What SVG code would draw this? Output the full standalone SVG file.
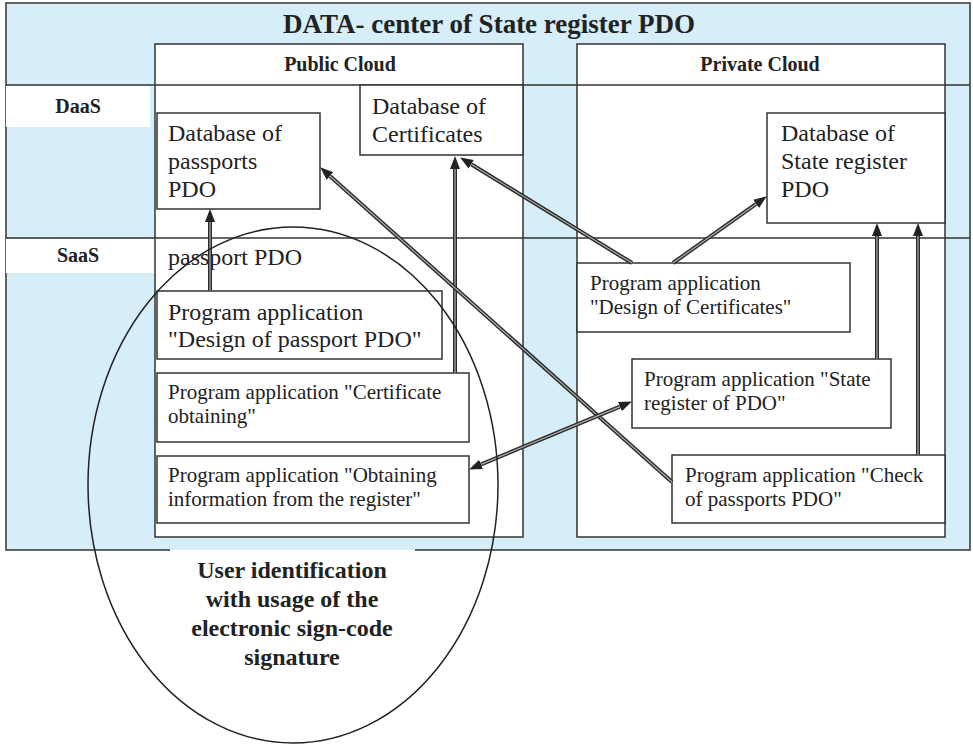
<svg xmlns="http://www.w3.org/2000/svg" width="973" height="747" viewBox="0 0 973 747">
<style>
.ln{stroke:#333;stroke-width:1.5;fill:none}
.box{fill:#fff;stroke:#333;stroke-width:1.5}
.t{font-family:"Liberation Serif","Times New Roman",serif;fill:#222}
.b{font-weight:bold}
.big{font-size:24px}
.sm{font-size:21px}
.hd{font-size:20px;font-weight:bold}
.ao{stroke:#2a2a2a;stroke-width:4;fill:none}
.ai{stroke:#b0b0b0;stroke-width:1.2;fill:none}
</style>
<defs>
<marker id="ah" markerUnits="userSpaceOnUse" markerWidth="14" markerHeight="12" refX="0" refY="5" orient="auto-start-reverse" viewBox="0 0 14 10">
<path d="M0,0 L13,5 L0,10 z" fill="#222"/>
</marker>
</defs>
<rect width="973" height="747" fill="#fff"/>
<g id="datacenter">
<rect x="6" y="3" width="964" height="547" fill="#d5eef7"/>
<path class="ln" d="M170,550 L6,550 L6,3 L970,3 L970,550 L415,550"/>
<text class="t b" x="489" y="33" font-size="27" text-anchor="middle">DATA- center of State register PDO</text>
</g>
<g id="daas-label">
<rect x="6" y="86" width="144" height="41" fill="#fff"/>
<text class="t hd" x="78" y="113" text-anchor="middle">DaaS</text>
</g>
<g id="saas-label">
<rect x="6" y="239" width="149" height="34" fill="#fff"/>
<text class="t hd" x="78" y="262" text-anchor="middle">SaaS</text>
</g>
<g id="public-cloud">
<rect class="box" x="155" y="44" width="368" height="493"/>
<text class="t hd" x="340" y="71" text-anchor="middle">Public Cloud</text>
</g>
<g id="private-cloud">
<rect class="box" x="577" y="44" width="368" height="493"/>
<text class="t hd" x="760" y="71" text-anchor="middle">Private Cloud</text>
</g>
<g id="rows">
<line class="ln" x1="6" y1="85" x2="970" y2="85"/>
<line class="ln" x1="6" y1="238" x2="970" y2="238"/>
</g>
<g id="db-passports">
<rect class="box" x="157" y="113" width="163" height="96"/>
<text class="t big" x="168" y="141">Database of</text>
<text class="t big" x="168" y="169">passports</text>
<text class="t big" x="168" y="197">PDO</text>
</g>
<g id="db-certificates">
<rect class="box" x="360" y="85" width="163" height="70"/>
<text class="t big" x="372" y="114">Database of</text>
<text class="t big" x="372" y="142">Certificates</text>
</g>
<g id="db-state-register">
<rect class="box" x="767" y="113" width="178" height="110"/>
<text class="t big" x="781" y="141">Database of</text>
<text class="t big" x="781" y="169">State register</text>
<text class="t big" x="781" y="197">PDO</text>
</g>
<g id="passport-pdo">
<text class="t big" x="168" y="265">passport PDO</text>
</g>
<g id="app-design-passport">
<rect class="box" x="157" y="291" width="285" height="68"/>
<text class="t big" x="168" y="320">Program application</text>
<text class="t big" x="168" y="347">"Design of passport PDO"</text>
</g>
<g id="app-certificate-obtaining">
<rect class="box" x="157" y="373" width="312" height="69"/>
<text class="t sm" x="168" y="399">Program application "Certificate</text>
<text class="t sm" x="168" y="423">obtaining"</text>
</g>
<g id="app-obtaining-info">
<rect class="box" x="157" y="456" width="312" height="67"/>
<text class="t sm" x="168" y="482">Program application "Obtaining</text>
<text class="t sm" x="168" y="506">information from the register"</text>
</g>
<g id="app-design-certificates">
<rect class="box" x="577" y="263" width="273" height="69"/>
<text class="t sm" x="590" y="290">Program application</text>
<text class="t sm" x="590" y="314">"Design of Certificates"</text>
</g>
<g id="app-state-register">
<rect class="box" x="632" y="359" width="259" height="69"/>
<text class="t sm" x="644" y="386">Program application "State</text>
<text class="t sm" x="644" y="410">register of PDO"</text>
</g>
<g id="app-check-passports">
<rect class="box" x="672" y="455" width="273" height="68"/>
<text class="t sm" x="685" y="482">Program application  "Check</text>
<text class="t sm" x="685" y="506">of passports PDO"</text>
</g>
<g id="connectors">
<path class="ao" d="M210,291 L210,222" marker-end="url(#ah)"/>
<path class="ai" d="M210,291 L210,222"/>
<path class="ao" d="M455,373 L455,169" marker-end="url(#ah)"/>
<path class="ai" d="M455,373 L455,169"/>
<path class="ao" d="M632,263 L471.2,164.3" marker-end="url(#ah)"/>
<path class="ai" d="M632,263 L471.2,164.3"/>
<path class="ao" d="M673,263 L756.2,203.9" marker-end="url(#ah)"/>
<path class="ai" d="M673,263 L756.2,203.9"/>
<path class="ao" d="M877,359 L877,236" marker-end="url(#ah)"/>
<path class="ai" d="M877,359 L877,236"/>
<path class="ao" d="M918,455 L918,236" marker-end="url(#ah)"/>
<path class="ai" d="M918,455 L918,236"/>
<path class="ao" d="M672,482 L329.9,176" marker-end="url(#ah)"/>
<path class="ai" d="M672,482 L329.9,176"/>
<path class="ao" d="M481.1,464.4 L619.9,406.6" marker-start="url(#ah)" marker-end="url(#ah)"/>
<path class="ai" d="M481.1,464.4 L619.9,406.6"/>
</g>
<g id="user-identification">
<ellipse cx="293" cy="485" rx="205" ry="258" fill="none" stroke="#222" stroke-width="1.5"/>
<text class="t b" font-size="24" text-anchor="middle"><tspan x="292" y="578">User identification</tspan><tspan x="292" y="607">with usage of the</tspan><tspan x="292" y="636">electronic sign-code</tspan><tspan x="292" y="665">signature</tspan></text>
</g>
</svg>
